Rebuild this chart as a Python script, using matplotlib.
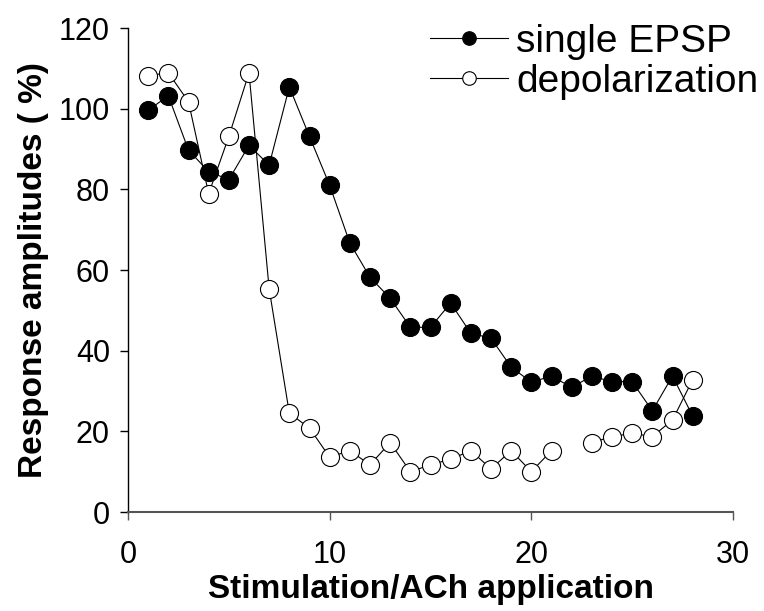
import matplotlib
matplotlib.use("Agg")
import matplotlib.pyplot as plt
import numpy as np

plt.rcParams['font.family'] = ['Liberation Sans', 'DejaVu Sans']

# stimulation number
stim = list(range(1, 29))

# single EPSP amplitudes (%)
epsp = [99.6, 103.2, 89.7, 84.4, 82.4, 90.9, 86.0, 105.4, 93.1, 81.0,
        66.7, 58.2, 53.0, 45.8, 45.8, 51.8, 44.3, 43.1, 35.9, 32.2,
        33.7, 30.9, 33.7, 32.3, 32.3, 25.1, 33.7, 23.8]

# depolarization amplitudes (%), no value at stimulation 22
depol = [108.2, 108.9, 101.7, 78.9, 93.1, 108.9, 55.3, 24.5, 20.8, 13.6,
         15.2, 11.7, 17.2, 10.0, 11.7, 13.1, 15.2, 10.7, 15.2, 10.0,
         15.2, np.nan, 17.2, 18.7, 19.5, 18.7, 22.8, 32.8]

xticks = [0, 10, 20, 30]
yticks = [0, 20, 40, 60, 80, 100, 120]

fig = plt.figure(figsize=(7.64, 6.11), dpi=100)
ax = fig.add_axes([128/764, 1 - 512/611, 605/764, 484/611])

ax.plot(stim, epsp, color='black', lw=0.8, marker='o', ms=13,
        mfc='black', mec='black', mew=0.8, label='single EPSP', zorder=3)
ax.plot(stim, depol, color='black', lw=0.8, marker='o', ms=13,
        mfc='white', mec='black', mew=0.8, label='depolarization', zorder=2)

ax.set_xlim(0, 30)
ax.set_ylim(0, 120)
ax.set_xticks(xticks)
ax.set_yticks(yticks)

ax.spines['top'].set_visible(False)
ax.spines['right'].set_visible(False)
ax.spines['bottom'].set_color('#555555')
ax.spines['bottom'].set_linewidth(1.5)
ax.spines['left'].set_linewidth(1.0)

ax.tick_params(axis='y', direction='out', length=6, width=1, pad=7, labelsize=22)
ax.tick_params(axis='x', direction='out', length=6, width=1, color='#555555',
               pad=14, labelsize=22)

ax.set_xlabel('Stimulation/ACh application', fontsize=24, fontweight='bold',
              labelpad=3)
ax.set_ylabel('Response amplitudes ( %)', fontsize=24, fontweight='bold',
              labelpad=7)

ax.legend(loc='upper right', bbox_to_anchor=(758/764, 1 - 24/611),
          bbox_transform=fig.transFigure, frameon=False, fontsize=28,
          handlelength=2.0, handletextpad=0.2, labelspacing=0.1,
          borderpad=0, borderaxespad=0, markerscale=0.75)

fig.savefig('out.png', dpi=100)
